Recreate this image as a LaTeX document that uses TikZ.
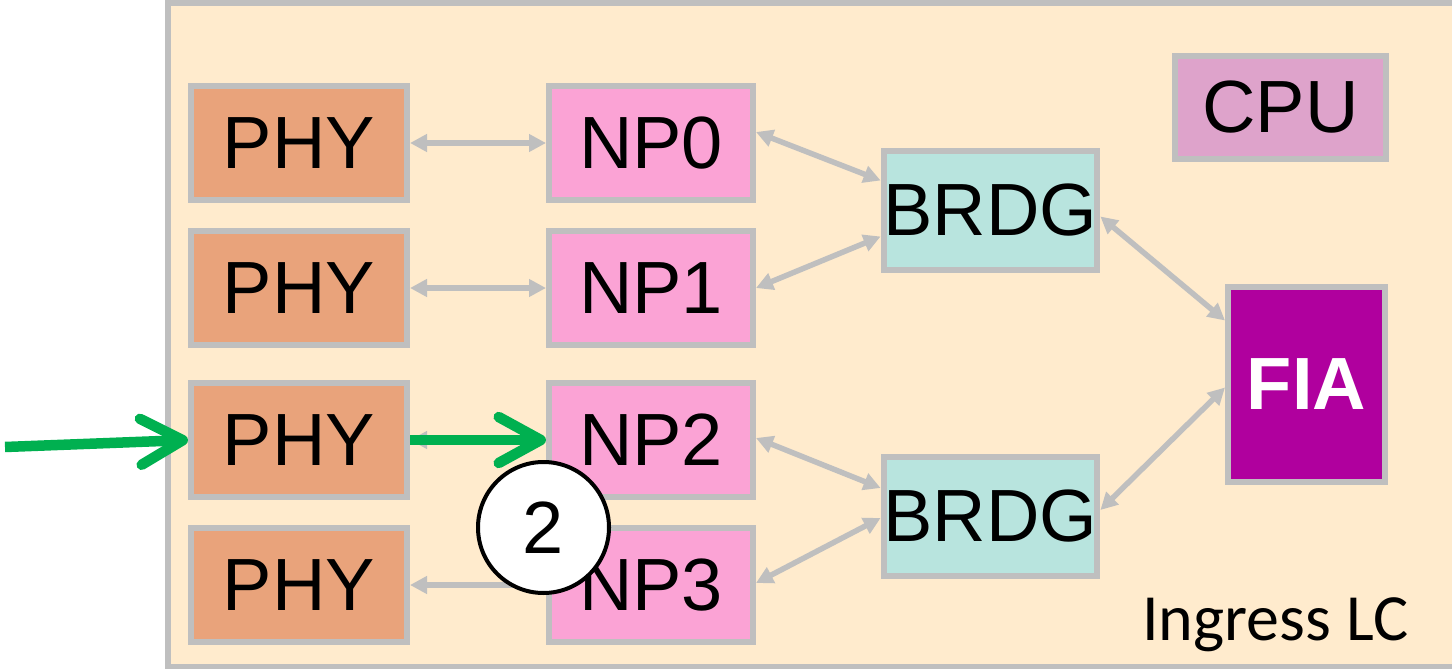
\documentclass[tikz,border=0pt]{standalone}
\usepackage{fontspec}
\setmainfont{Liberation Sans}
\newfontfamily\calibri{Carlito}
\usetikzlibrary{arrows.meta}
\definecolor{framefill}{HTML}{FFEBCD}
\definecolor{bordergray}{HTML}{BFBFBF}
\definecolor{phyfill}{HTML}{E9A37B}
\definecolor{npfill}{HTML}{FBA3D5}
\definecolor{brdgfill}{HTML}{B8E4DE}
\definecolor{cpufill}{HTML}{DEA3CB}
\definecolor{fiafill}{HTML}{B0009E}
\definecolor{arrowgreen}{HTML}{00B050}
\tikzset{
  blk/.style={draw=bordergray, line width=6pt, inner sep=0pt, font=\fontsize{74}{80}\selectfont, text=black},
  phybox/.style={blk, fill=phyfill, minimum width=216pt, minimum height=114pt},
  npbox/.style={blk, fill=npfill, minimum width=204pt, minimum height=114pt},
  brdgbox/.style={blk, fill=brdgfill, minimum width=209pt, minimum height=119pt},
  link/.style={draw=bordergray, line width=5.5pt, {Triangle[length=17pt,width=17pt]}-{Triangle[length=17pt,width=17pt]}},
  flow/.style={draw=arrowgreen, line width=10.5pt, -{Straight Barb[length=42pt,width=46pt,round]}},
}
\begin{document}
\begin{tikzpicture}[x=1pt,y=-1pt]
\useasboundingbox (0,0) rectangle (1452,669);
\clip (0,0) rectangle (1452,669);
% outer frame
\draw[draw=bordergray, fill=framefill, line width=6pt] (167.5,3.5) rectangle (1490,667);
% boxes
\node[phybox] (phy0) at (299,143) {PHY};
\node[phybox] (phy1) at (299,288) {PHY};
\node[phybox] (phy2) at (299,440) {PHY};
\node[phybox] (phy3) at (299,585) {PHY};
\node[npbox] (np0) at (651,143) {NP0};
\node[npbox] (np1) at (651,288) {NP1};
\node[npbox] (np2) at (651,440) {NP2};
\node[npbox] (np3) at (651,585) {NP3};
\node[brdgbox] (brdg0) at (990.5,210.5) {BRDG};
\node[brdgbox] (brdg1) at (990.5,516) {BRDG};
\node[blk, fill=cpufill, minimum width=211pt, minimum height=103pt] (cpu) at (1280.5,107.5) {CPU};
\node[blk, fill=fiafill, minimum width=157pt, minimum height=195pt, text=white, font=\fontsize{74}{80}\selectfont\bfseries] (fia) at (1306.5,384.5) {FIA};
% gray links
\draw[link] (phy0.east) -- (np0.west);
\draw[link] (phy1.east) -- (np1.west);
\draw[link] (phy2.east) -- (np2.west);
\draw[link] (phy3.east) -- (np3.west);
\draw[link] ([yshift=11pt]np0.east) -- ([yshift=30pt]brdg0.west);
\draw[link] (np1.east) -- ([yshift=-26pt]brdg0.west);
\draw[link] ([yshift=2pt]np2.east) -- ([yshift=28pt]brdg1.west);
\draw[link] ([yshift=2pt]np3.east) -- ([yshift=-2pt]brdg1.west);
\draw[link] ([yshift=-6pt]brdg0.east) -- ([yshift=64pt]fia.west);
\draw[link] ([yshift=6pt]brdg1.east) -- ([yshift=-3pt]fia.west);
% green flow
\coordinate (in) at (5,447);
\draw[flow] (in) -- (phy2.west);
\draw[flow] (phy2.east) -- (np2.west);
% step marker
\node[circle, draw=black, fill=white, line width=4pt, minimum size=131pt, inner sep=0pt, font=\fontsize{74}{80}\selectfont] (step2) at (543.5,527.5) {2};
% label
\node[anchor=base west, inner sep=0pt, font=\calibri\fontsize{66}{70}\selectfont] (lc) at (1142,640) {Ingress LC};
\end{tikzpicture}
\end{document}
